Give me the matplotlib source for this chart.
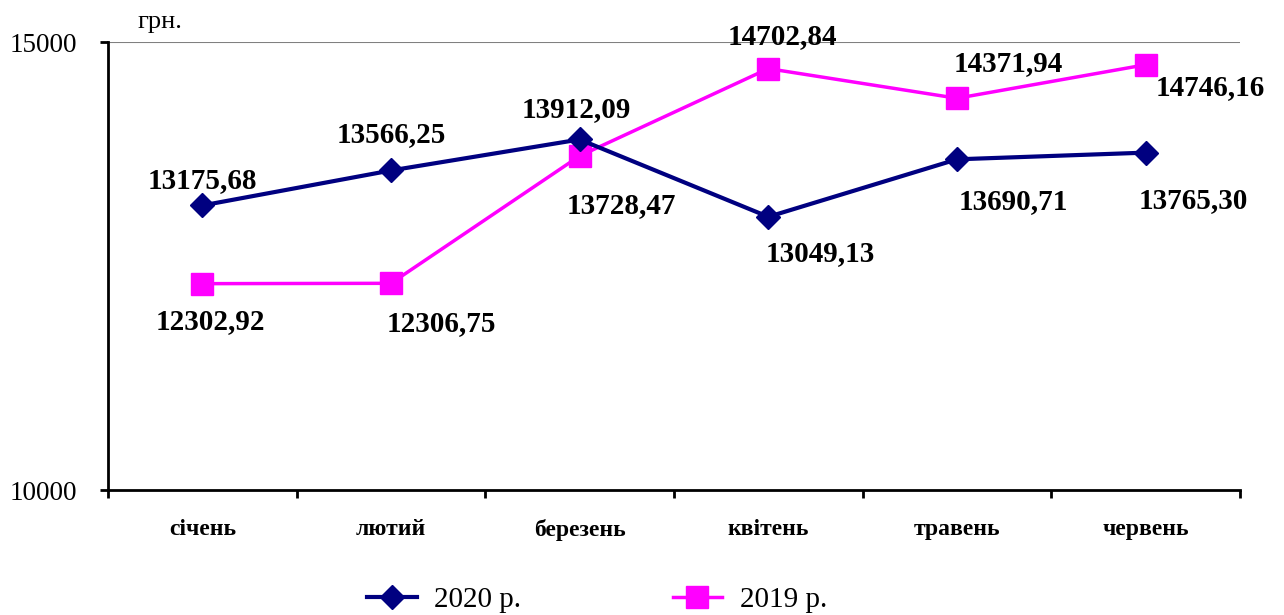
import numpy as np
import matplotlib.pyplot as plt

plt.rcParams['font.family'] = ['Liberation Serif', 'DejaVu Serif']

months = ["січень", "лютий", "березень", "квітень", "травень", "червень"]
y2020 = [13175.68, 13566.25, 13912.09, 13049.13, 13690.71, 13765.30]
y2019 = [12302.92, 12306.75, 13728.47, 14702.84, 14371.94, 14746.16]

# label offsets in pixels (dx, dy) for each point
off2020 = [(0, 25), (0, 36), (-3, 30), (52, -37), (56, -42), (48, -48)]
off2019 = [(8, -38), (50, -40), (42, -50), (14, 32), (51, 35), (65, -23)]

fig = plt.figure(figsize=(12.84, 6.15), dpi=100)
ax = fig.add_axes([108 / 1284, 1 - 490 / 615, (1240 - 108) / 1284, (490 - 42) / 615])

x = np.arange(len(months))
l1, = ax.plot(x, y2020, color="#000080", lw=3, marker="D", ms=12, label="2020 р.", zorder=4)
l2, = ax.plot(x, y2019, color="#ff00ff", lw=2.5, marker="s", ms=16, label="2019 р.", zorder=3)

def fmt(v):
    return f"{v:.2f}".replace(".", ",")

for xi, v, (dx, dy) in zip(x, y2020, off2020):
    ax.annotate(fmt(v), (xi, v), xytext=(dx * 0.72, dy * 0.72), textcoords="offset points",
                ha="center", va="center", fontsize=21, fontweight="bold")
for xi, v, (dx, dy) in zip(x, y2019, off2019):
    ax.annotate(fmt(v), (xi, v), xytext=(dx * 0.72, dy * 0.72), textcoords="offset points",
                ha="center", va="center", fontsize=21, fontweight="bold")

ax.set_xlim(-0.5, len(months) - 0.5)
ax.set_ylim(10000, 15000)
ax.axhline(15000, color="#808080", lw=1.5, zorder=1)

ax.spines[["top", "right"]].set_visible(False)
ax.spines["left"].set_linewidth(2)
ax.spines["bottom"].set_linewidth(2)

ax.set_yticks([10000, 15000])
ax.set_yticklabels(["10000", "15000"], fontsize=19.5)
ax.tick_params(axis="y", length=6, width=2, pad=16)

ax.set_xticks(np.arange(-0.5, len(months) + 0.5, 1.0))
ax.set_xticklabels([])
ax.set_xticks(x, minor=True)
ax.set_xticklabels(months, minor=True, fontsize=17, fontweight="bold")
ax.tick_params(axis="x", which="major", length=6, width=2, direction="out")
ax.tick_params(axis="x", which="minor", length=0, pad=21)

fig.text(160 / 1284, 1 - 22 / 615, "грн.", fontsize=19, ha="center", va="center")

fig.legend(handles=[l1, l2], loc="center", bbox_to_anchor=(597 / 1284, 1 - 600 / 615), ncol=2,
           frameon=False, fontsize=21, handlelength=1.7, handletextpad=0.6, columnspacing=5.2)

fig.savefig("out.png", dpi=100)
